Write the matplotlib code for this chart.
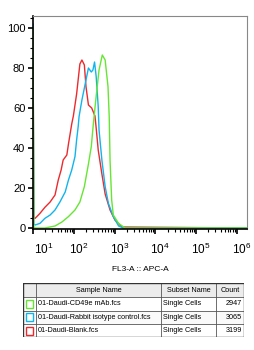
import matplotlib
matplotlib.use("Agg")
import matplotlib.pyplot as plt
import matplotlib.transforms as mtransforms
from matplotlib.patches import Rectangle
from matplotlib.ticker import MultipleLocator, LogLocator
import numpy as np

plt.rcParams["font.family"] = ["Liberation Sans", "DejaVu Sans"]

# histogram traces: x as log10(FL3-A), y as % of max
red_exp = [1.00, 1.02, 1.05, 1.17, 1.29, 1.42, 1.54, 1.62, 1.69, 1.74, 1.83, 1.87, 1.95,
           1.99, 2.07, 2.15, 2.20, 2.26, 2.30, 2.36, 2.44, 2.52, 2.55, 2.60, 2.69, 2.77,
           2.89, 3.01, 3.18, 6.30]
red_val = [98, 5, 4.8, 7.3, 10.3, 13, 16.5, 24, 29, 34, 36.5, 42, 52,
           56, 67, 82, 84, 81.5, 70.7, 61.5, 60, 56, 50, 39, 27, 17,
           9, 4, 0.5, 0]

blue_exp = [1.00, 1.02, 1.05, 1.17, 1.29, 1.42, 1.54, 1.66, 1.79, 1.87, 1.95, 2.03, 2.07,
            2.11, 2.13, 2.20, 2.28, 2.36, 2.43, 2.47, 2.51, 2.55, 2.60, 2.62, 2.69, 2.77,
            2.85, 2.97, 3.10, 3.21, 6.30]
blue_val = [102, 2, 1.5, 2.3, 4.8, 6.5, 9, 13, 18, 24, 29, 35.7, 44,
            51, 55.7, 64, 72, 80, 78, 79, 83, 75.7, 60.7, 49, 34, 20.7,
            12.3, 5.7, 1, 0, 0]

green_exp = [1.00, 1.02, 1.05, 1.29, 1.54, 1.71, 1.87, 2.03, 2.15, 2.26, 2.36, 2.43, 2.48,
             2.54, 2.62, 2.70, 2.77, 2.84, 2.87, 2.89, 2.93, 2.97, 3.10, 3.26, 6.30]
green_val = [100, 0.5, 0, 0, 1, 3, 5.7, 9, 13, 20.7, 32, 40.7, 52,
             64, 79, 86.5, 84, 70.7, 55.7, 34, 14, 6.5, 2.3, 0, 0]

sample_names = ["01-Daudi-CD49e mAb.fcs", "01-Daudi-Rabbit isotype control.fcs",
                "01-Daudi-Blank.fcs"]
subset_names = ["Single Cells", "Single Cells", "Single Cells"]
counts = [2947, 3065, 3199]
colors = ["#66e633", "#12b4ec", "#ec2a2e"]

fig = plt.figure(figsize=(2.55, 3.5), dpi=100)
ax = fig.add_axes([33 / 255, 121 / 350, 214 / 255, 213 / 350])

for exps, vals, c in [(red_exp, red_val, colors[2]),
                      (blue_exp, blue_val, colors[1]),
                      (green_exp, green_val, colors[0])]:
    ax.plot(10 ** np.array(exps), vals, color=c, lw=1.0, clip_on=True)

ax.set_xscale("log")
ax.set_xlim(10 ** 1.0, 10 ** 6.25)
ax.set_ylim(-0.5, 106)
ax.yaxis.set_major_locator(MultipleLocator(20))
ax.yaxis.set_minor_locator(MultipleLocator(5))
ax.xaxis.set_major_locator(LogLocator(base=10, numticks=10))
ax.xaxis.set_minor_locator(LogLocator(base=10, subs=np.arange(2, 10), numticks=20))

for s in ["top", "right"]:
    ax.spines[s].set_color("#888888")
    ax.spines[s].set_linewidth(0.8)
for s in ["left", "bottom"]:
    ax.spines[s].set_color("black")
    ax.spines[s].set_linewidth(1.2)

ax.tick_params(axis="both", which="major", direction="out", length=3.5, width=1.2,
               labelsize=8, colors="black")
ax.tick_params(axis="both", which="minor", direction="out", length=2, width=0.8)
ax.tick_params(axis="x", which="major", pad=6, labelsize=8.5)
ax.tick_params(axis="y", which="major", pad=2)

# FlowJo-style labels sit a bit right of the decade ticks
fig.canvas.draw()
for loc, lbl in zip(ax.get_xticks(), ax.get_xticklabels()):
    shift = 8 if np.isclose(loc, 10) else 3.5
    offset = mtransforms.ScaledTranslation(shift / 72, 0, fig.dpi_scale_trans)
    lbl.set_transform(lbl.get_transform() + offset)

ax.set_xlabel("FL3-A :: APC-A", fontsize=6, labelpad=6)

# legend table
tax = fig.add_axes([23 / 255, 13 / 350, 221 / 255, 54 / 350])
tax.set_xlim(0, 221)
tax.set_ylim(54, 0)
tax.axis("off")
col_x = [0, 13, 138, 193, 221]
row_y = [0, 14, 27.5, 41, 54]
tax.add_patch(Rectangle((0, 0), 221, 14, facecolor="#ececec", edgecolor="none"))
for i in range(3):
    tax.add_patch(Rectangle((0, row_y[i + 1]), 221, 13.5,
                            facecolor="#fafafa" if i % 2 else "white", edgecolor="none"))
for x in col_x:
    tax.plot([x, x], [0, 54], color="#555555", lw=0.6)
for y in row_y:
    tax.plot([0, 221], [y, y], color="#555555", lw=0.6)
tax.plot([0, 221, 221, 0, 0], [0, 0, 54, 54, 0], color="#333333", lw=1.0)

fs = 5.2
tax.text((col_x[1] + col_x[2]) / 2, 7, "Sample Name", ha="center", va="center", fontsize=fs)
tax.text((col_x[2] + col_x[3]) / 2, 7, "Subset Name", ha="center", va="center", fontsize=fs)
tax.text((col_x[3] + col_x[4]) / 2, 7, "Count", ha="center", va="center", fontsize=fs)
for i in range(3):
    yc = (row_y[i + 1] + row_y[i + 2]) / 2
    tax.add_patch(Rectangle((3, yc - 4), 7, 8, facecolor="white", edgecolor=colors[i], lw=1.0))
    tax.text(col_x[1] + 2, yc, sample_names[i], ha="left", va="center", fontsize=fs)
    tax.text(col_x[2] + 2, yc, subset_names[i], ha="left", va="center", fontsize=fs)
    tax.text(col_x[4] - 2, yc, str(counts[i]), ha="right", va="center", fontsize=fs)

fig.savefig("out.png", dpi=100)
